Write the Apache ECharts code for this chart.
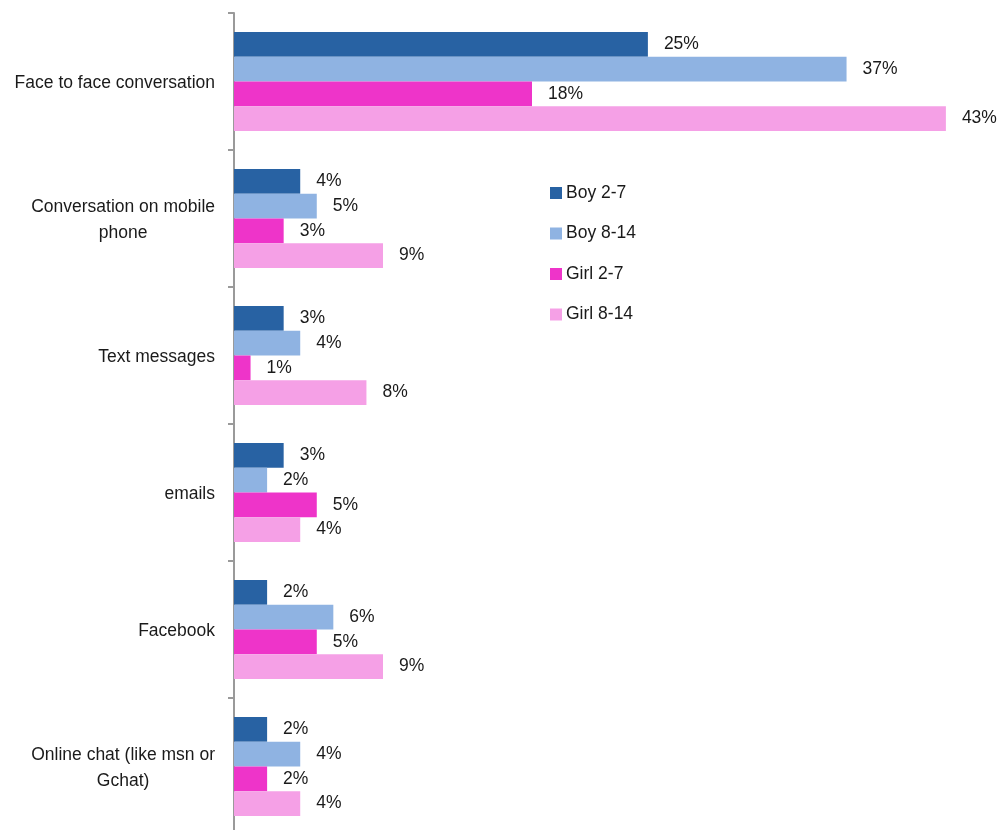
<!DOCTYPE html>
<html>
<head>
<meta charset="utf-8">
<script src="https://cdn.jsdelivr.net/npm/echarts@6/dist/echarts.min.js"></script>
<style>
  html, body { margin: 0; padding: 0; background: #ffffff; }
  #chart { width: 1005px; height: 830px; }
</style>
</head>
<body>
<div id="chart"></div>
<script>
// Categories, top to bottom
const categories = [
  'Face to face conversation',
  'Conversation on mobile\nphone',
  'Text messages',
  'emails',
  'Facebook',
  'Online chat (like msn or\nGchat)'
];

// Share of children per channel (%)
const boy2to7   = [25, 4, 3, 3, 2, 2];
const boy8to14  = [37, 5, 4, 2, 6, 4];
const girl2to7  = [18, 3, 1, 5, 5, 2];
const girl8to14 = [43, 9, 8, 4, 9, 4];

const seriesNames = ['Boy 2-7', 'Boy 8-14', 'Girl 2-7', 'Girl 8-14'];
const seriesColors = ['#2862a3', '#8fb3e2', '#ee34c9', '#f5a0e6'];
const seriesData = [boy2to7, boy8to14, girl2to7, girl8to14];

const FONT = "'Liberation Sans', Arial, sans-serif";
const FONT_SIZE = 17.5;
const TEXT_COLOR = '#1a1a1a';

const chart = echarts.init(document.getElementById('chart'), null, { renderer: 'canvas' });

chart.setOption({
  backgroundColor: '#ffffff',
  animation: false,
  textStyle: { fontFamily: FONT },
  grid: { left: 234, top: 13, right: 26, height: 822, containLabel: false, outerBoundsMode: 'none' },
  legend: {
    orient: 'vertical',
    left: 545,
    top: 178,
    itemWidth: 12,
    itemHeight: 12,
    itemGap: 20.5,
    icon: 'rect',
    textStyle: { fontFamily: FONT, fontSize: FONT_SIZE, color: TEXT_COLOR, lineHeight: 20, padding: [0, 0, 0, -1] },
    data: seriesNames
  },
  xAxis: {
    type: 'value',
    min: 0,
    max: 45,
    show: false
  },
  yAxis: {
    type: 'category',
    inverse: true,
    data: categories,
    axisLine: { show: true, lineStyle: { color: '#9a9a9a', width: 2 } },
    axisTick: { show: true, length: 6, lineStyle: { color: '#9a9a9a', width: 2 } },
    axisLabel: {
      margin: 19,
      fontFamily: FONT,
      fontSize: FONT_SIZE,
      color: TEXT_COLOR,
      lineHeight: 26,
      formatter: function (v) {
        return v.split('\n').map(function (l) { return '{c|' + l + '}'; }).join('\n');
      },
      rich: {
        c: { align: 'center', fontFamily: FONT, fontSize: FONT_SIZE, color: TEXT_COLOR, lineHeight: 26, padding: [4, 0, 0, 0] }
      }
    }
  },
  series: seriesData.map(function (vals, i) {
    return {
      name: seriesNames[i],
      type: 'bar',
      data: vals,
      barGap: '0%',
      barCategoryGap: '27.7%',
      itemStyle: { color: seriesColors[i] },
      label: {
        show: true,
        position: 'right',
        distance: 16,
        fontFamily: FONT,
        fontSize: FONT_SIZE,
        color: TEXT_COLOR,
        padding: [4, 0, 0, 0],
        formatter: '{c}%'
      }
    };
  })
});
</script>
</body>
</html>
